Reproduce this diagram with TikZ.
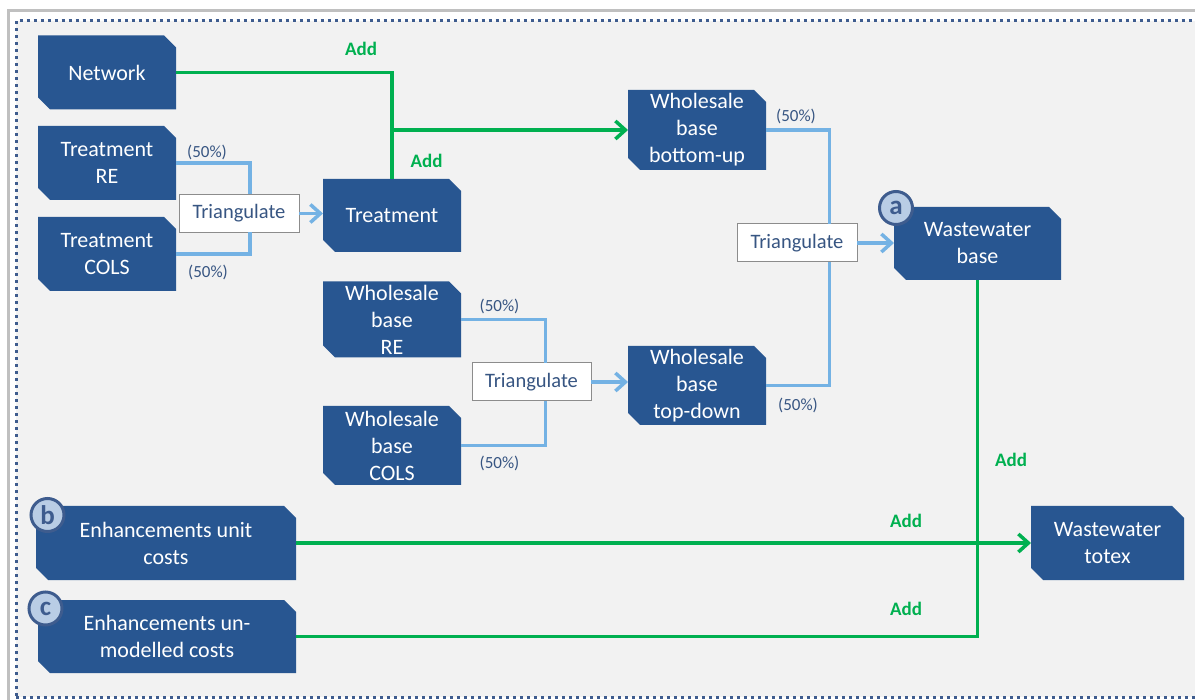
\documentclass[tikz,border=0pt]{standalone}
\usepackage{fontspec}
\setmainfont{Carlito}
\usetikzlibrary{arrows.meta,backgrounds}

\definecolor{boxblue}{RGB}{40,86,145}
\definecolor{linkblue}{RGB}{116,178,228}
\definecolor{addgreen}{RGB}{0,176,80}
\definecolor{labelblue}{RGB}{55,85,130}
\definecolor{panel}{RGB}{242,242,242}
\definecolor{framegray}{RGB}{192,192,192}
\definecolor{dotblue}{RGB}{62,92,142}
\definecolor{badgefill}{RGB}{185,205,229}

\tikzset{
  box/.style={rectangle, minimum width=138pt, minimum height=74pt, inner sep=0pt,
    outer sep=0pt, align=center, text=white, font=\fontsize{22}{27}\selectfont},
  tribox/.style={rectangle, draw=black!45, fill=white, line width=1pt,
    minimum width=120pt, minimum height=38pt, inner sep=0pt, outer sep=0pt,
    text=labelblue, font=\fontsize{20.5}{24}\selectfont},
  pct/.style={text=labelblue, inner sep=0pt, font=\fontsize{17}{20}\selectfont},
  addlbl/.style={text=addgreen, inner sep=0pt, font=\bfseries\fontsize{19}{22}\selectfont},
  badge/.style={circle, draw=dotblue, fill=badgefill, line width=3pt, minimum size=33pt,
    inner sep=0pt, text=dotblue, font=\bfseries\fontsize{27}{27}\selectfont},
  blueline/.style={linkblue, line width=3.5pt},
  greenline/.style={addgreen, line width=3.5pt},
  arr/.style={-{Straight Barb[length=10pt,width=18pt]}},
}

\begin{document}
\begin{tikzpicture}[x=1pt,y=-1pt]
\useasboundingbox (0,0) rectangle (1195,700);

% page, outer frame and dotted panel
\begin{scope}[on background layer]
  \fill[white] (0,0) rectangle (1195,700);
  \fill[panel] (16,20.7) rectangle (1200,697);
  \draw[framegray, line width=3pt] (8.5,710) -- (8.5,10.8) -- (1210,10.8);
  \draw[dotblue, line width=3pt, dash pattern=on 3.3pt off 3.7pt] (16,710) -- (16,20.7) -- (1210,20.7);
  \draw[dotblue, line width=3pt, dash pattern=on 3.3pt off 3.7pt] (16,697) -- (1210,697);
\end{scope}

% cost blocks
\node[box] (net) at (107,72.5) {Network};
\node[box] (treRE) at (107,163) {Treatment\\RE};
\node[box] (treCO) at (107,254) {Treatment\\COLS};
\node[box, minimum height=73pt] (tre) at (392,215.5) {Treatment};
\node[box, minimum height=80pt] (wbbu) at (697,130) {Wholesale\\base\\bottom-up};
\node[box, minimum height=76pt] (wbre) at (392,319.5) {Wholesale\\base\\RE};
\node[box, minimum height=79pt] (wbco) at (392,445.5) {Wholesale\\base\\COLS};
\node[box, minimum height=79pt] (wbtd) at (697,385.5) {Wholesale\\base\\top-down};
\node[box, minimum width=167pt, minimum height=73pt] (ewb) at (977.5,243.5) {Wastewater\\base};
\node[box, minimum width=153pt] (tot) at (1107.5,543) {Wastewater\\totex};
\node[box, minimum width=260pt] (enb) at (166,543) {Enhancements unit\\costs};
\node[box, minimum width=258pt, minimum height=73pt] (enc) at (167,636.5) {Enhancements un-\\modelled costs};

% snipped-corner fills behind the blocks
\begin{scope}[on background layer]
  \foreach \n in {net,treRE,treCO,tre,wbbu,wbre,wbco,wbtd,ewb,tot,enb,enc}{
    \fill[boxblue] (\n.north west) -- ([xshift=-12pt]\n.north east)
      -- ([yshift=-12pt]\n.north east) -- (\n.south east)
      -- ([xshift=12pt]\n.south west) -- ([yshift=12pt]\n.south west) -- cycle;
  }
\end{scope}

% triangulation boxes
\node[tribox] (tri1) at (239,213.5) {Triangulate};
\node[tribox, minimum width=119pt] (tri2) at (531.5,382) {Triangulate};
\node[tribox] (tri3) at (797,243) {Triangulate};

% triangulation links
\draw[blueline] (treRE.east) -| ([xshift=11pt]tri1.north);
\draw[blueline] (treCO.east) -| ([xshift=11pt]tri1.south);
\draw[blueline, arr] (tri1.east) -- (tri1.east -| tre.west);
\draw[blueline] (wbre.east) -| ([xshift=14pt]tri2.north);
\draw[blueline] (wbco.east) -| ([xshift=14pt]tri2.south);
\draw[blueline, arr] (tri2.east) -- (tri2.east -| wbtd.west);
\draw[blueline] (wbbu.east) -| ([xshift=32.5pt]tri3.north);
\draw[blueline] (wbtd.east) -| ([xshift=32.5pt]tri3.south);
\draw[blueline, arr] (tri3.east) -- (tri3.east -| ewb.west);

% additive links
\draw[greenline] (net.east) -| (tre.north);
\coordinate (jn) at (tre.north |- wbbu.west);
\draw[greenline, arr] (jn) -- (wbbu.west);
\draw[greenline] (ewb.south) |- (enc.east);
\draw[greenline, arr] (enb.east) -- (enb.east -| tot.west);

% weights
\node[pct] (p1) at (207,152) {(50\%)};
\node[pct] (p2) at (208,272) {(50\%)};
\node[pct] (p3) at (499.5,306) {(50\%)};
\node[pct] (p4) at (499.5,463) {(50\%)};
\node[pct] (p5) at (796,116) {(50\%)};
\node[pct] (p6) at (798,405) {(50\%)};

% operation labels
\node[addlbl] (a1) at (361,49) {Add};
\node[addlbl] (a2) at (426.5,161) {Add};
\node[addlbl] (a3) at (1011,460) {Add};
\node[addlbl] (a4) at (906,521) {Add};
\node[addlbl] (a5) at (906,609) {Add};

% badges
\node[badge] (ba) at (896,208) {a};
\node[badge] (bb) at (47.5,515) {b};
\node[badge] (bc) at (45.5,608.5) {c};
\end{tikzpicture}
\end{document}
